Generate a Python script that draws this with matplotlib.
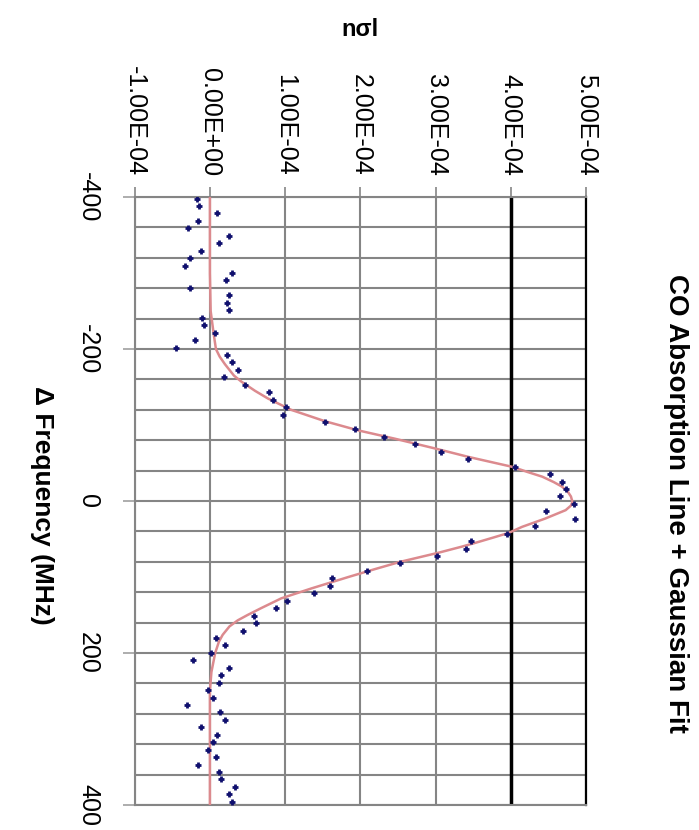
import matplotlib
matplotlib.use("Agg")
import matplotlib.pyplot as plt

plt.rcParams['font.family'] = ['Liberation Sans', 'DejaVu Sans']

# measured points (frequency in MHz, n*sigma*l in units of 1e-4)
freq = [-398.0, -388.2, -378.4, -368.6, -358.8, -349.0, -339.2, -329.4, -319.6, -309.8,
        -300.0, -290.2, -280.4, -270.6, -260.8, -251.0, -241.2, -231.4, -221.6, -211.8,
        -202.0, -192.2, -182.4, -172.6, -162.8, -153.0, -143.2, -133.4, -123.6, -113.8,
        -104.0, -94.2, -84.4, -74.6, -64.8, -55.0, -45.2, -35.4, -25.6, -15.8,
        -6.0, 3.8, 13.6, 23.4, 33.2, 43.0, 52.8, 62.6, 72.4, 82.2,
        92.0, 101.8, 111.6, 121.4, 131.2, 141.0, 150.8, 160.6, 170.4, 180.2,
        190.0, 199.8, 209.6, 219.4, 229.2, 239.0, 248.8, 258.6, 268.4, 278.2,
        288.0, 297.8, 307.6, 317.4, 327.2, 337.0, 346.8, 356.6, 366.4, 376.2,
        386.0, 395.8]
nsl = [-0.17, -0.14, 0.10, -0.16, -0.29, 0.26, 0.12, -0.12, -0.26, -0.33,
       0.29, 0.22, -0.27, 0.25, 0.23, 0.25, -0.10, -0.08, 0.07, -0.20,
       -0.45, 0.23, 0.29, 0.37, 0.19, 0.46, 0.79, 0.84, 1.01, 0.97,
       1.53, 1.93, 2.31, 2.73, 3.07, 3.43, 4.05, 4.52, 4.68, 4.73,
       4.65, 4.84, 4.47, 4.86, 4.32, 3.95, 3.47, 3.41, 3.02, 2.53,
       2.09, 1.62, 1.60, 1.38, 1.03, 0.88, 0.59, 0.61, 0.44, 0.08,
       0.20, 0.01, -0.22, 0.25, 0.15, 0.12, -0.02, 0.04, -0.30, 0.14,
       0.20, -0.12, 0.10, 0.04, -0.02, 0.08, -0.16, 0.12, 0.15, 0.33,
       0.26, 0.30]

# gaussian fit curve
fit_freq = [-400, -300, -250, -220, -200, -190, -180, -165, -157, -145, -135,
            -120, -105, -93, -82, -75, -69, -58, -45, -38, -32, -25, -19, -12,
            -6, 1, 6, 12, 23, 34, 42, 48, 55, 60, 68, 80, 90, 100, 115, 128,
            141, 150, 157, 165, 176, 185, 200, 225, 250, 300, 400]
fit_nsl = [0, 0, 0.01, 0.05, 0.08, 0.13, 0.20, 0.32, 0.42, 0.60, 0.77,
           1.08, 1.53, 1.97, 2.46, 2.75, 3.00, 3.44, 4.02, 4.23, 4.42, 4.57, 4.68, 4.76,
           4.80, 4.82, 4.80, 4.73, 4.46, 4.15, 3.97, 3.77, 3.53, 3.35, 3.04, 2.53, 2.18, 1.84, 1.35, 0.95,
           0.68, 0.50, 0.37, 0.26, 0.17, 0.12, 0.07, 0.02, 0, 0, 0]

nsl_ticks = [-1e-4, 0, 1e-4, 2e-4, 3e-4, 4e-4, 5e-4]
freq_ticks = [-400, -200, 0, 200, 400]

grid_col = '#858585'

fig = plt.figure(figsize=(6.99, 8.30), dpi=100)
ax = fig.add_axes([0.1927, 0.0301, 0.6456, 0.7325])

# chart is drawn turned on its side: nσl runs left->right, frequency top->bottom
ax.plot([v * 1e-4 for v in fit_nsl], fit_freq, color='#dc8a8e', lw=1.8, zorder=3)
ax.plot([v * 1e-4 for v in nsl], freq, ls='none', marker='+', ms=5, mew=2,
        color='#10106e', zorder=4)

ax.set_xlim(-1e-4, 5e-4)
ax.set_ylim(400, -400)

ax.xaxis.tick_top()
ax.set_xticks(nsl_ticks)
ax.set_xticklabels(['{:.2E}'.format(v) for v in nsl_ticks], rotation=-90,
                   va='bottom', ha='center', fontsize=18)
ax.set_yticks(freq_ticks)
ax.set_yticklabels([str(v) for v in freq_ticks], rotation=-90,
                   va='center', ha='right', fontsize=18)
ax.set_yticks(range(-400, 401, 40), minor=True)

ax.tick_params(axis='x', length=7, width=1.2, color=grid_col, pad=8)
ax.tick_params(axis='y', which='major', length=9, width=1.2, color='#a0a0a0', pad=16)
ax.tick_params(axis='y', which='minor', length=0)

ax.grid(True, axis='x', color=grid_col, lw=1.5)
ax.grid(True, axis='y', which='both', color=grid_col, lw=1.5)
ax.set_axisbelow(True)
ax.axvline(4e-4, color='black', lw=2.5, zorder=2)

for side in ['left', 'top', 'bottom']:
    ax.spines[side].set_color(grid_col)
    ax.spines[side].set_linewidth(1.5)
ax.spines['right'].set_color('black')
ax.spines['right'].set_linewidth(1.6)

fig.text(0.5155, 1 - 30 / 830, 'nσl', ha='center', va='center',
         fontsize=17, fontweight='bold')
fig.text(676 / 699, 1 - 503 / 830, 'CO Absorption Line + Gaussian Fit',
         rotation=-90, ha='center', va='center', fontsize=20, fontweight='bold')
fig.text(42 / 699, 1 - 505 / 830, 'Δ Frequency (MHz)', rotation=-90,
         ha='center', va='center', fontsize=19, fontweight='bold')

fig.savefig('out.png', dpi=100)
